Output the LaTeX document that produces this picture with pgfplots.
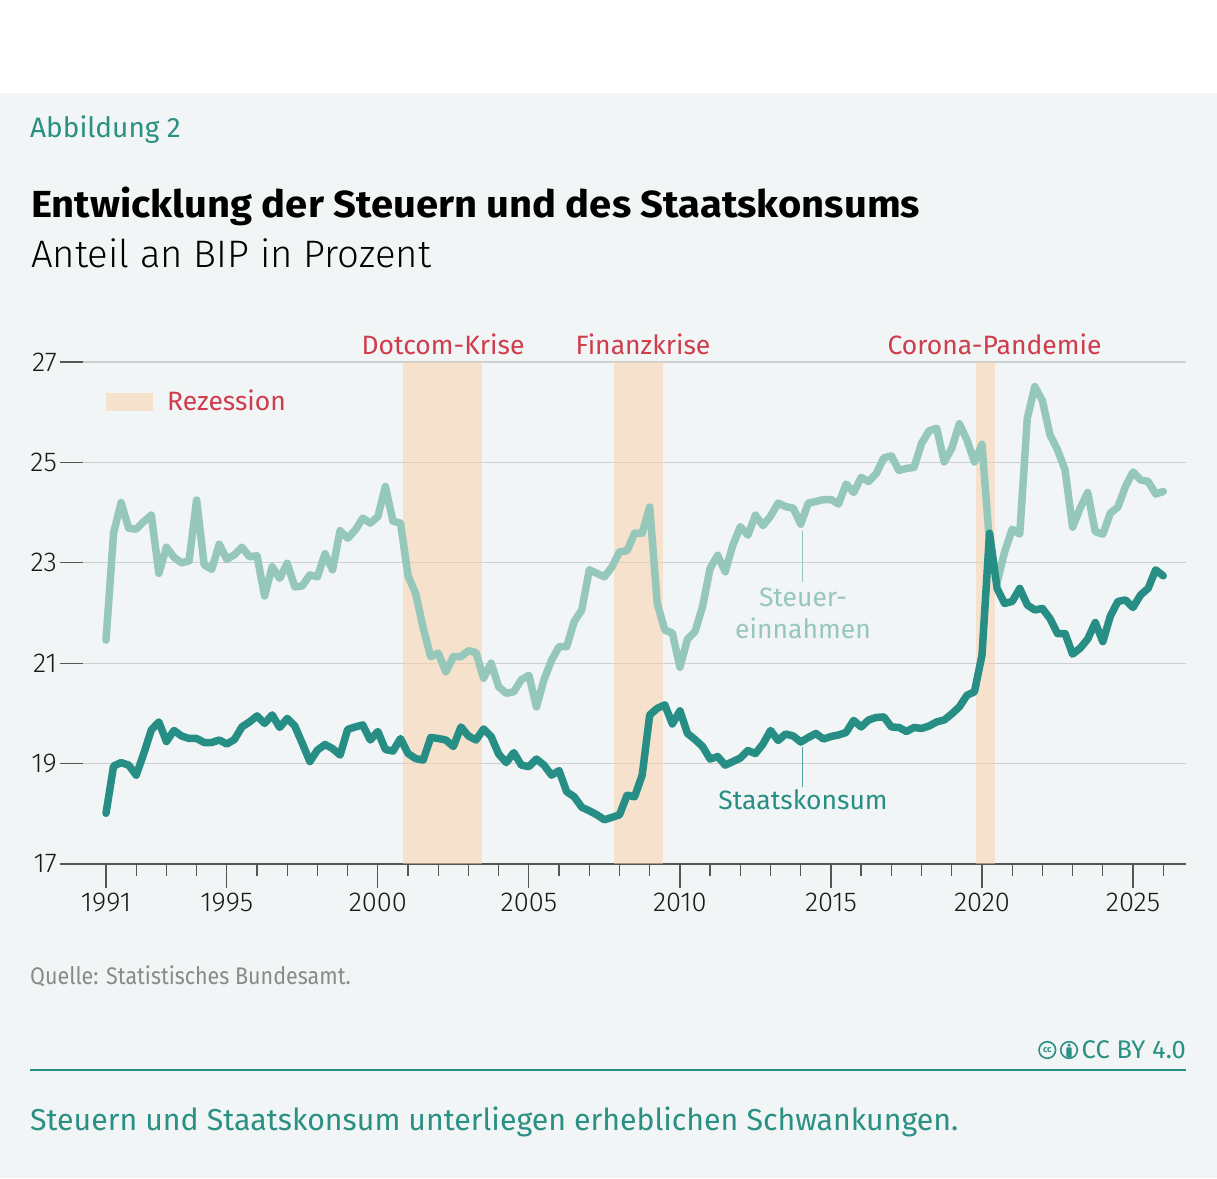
\documentclass[border=0pt]{standalone}
\usepackage{pgfplots}
\pgfplotsset{compat=1.18}
\usepackage{pgfplotstable}
\usepackage{fontspec}
\setmainfont{Fira Sans}
\newfontfamily\condfont[FakeStretch=0.895]{Fira Sans}
\newfontfamily\titlefont[FakeStretch=1.06]{Fira Sans}
\newfontfamily\lightfont{Fira Sans Light}
\definecolor{bgc}{HTML}{F1F5F6}
\definecolor{bandc}{HTML}{F5E2CD}
\definecolor{bandraw}{HTML}{F9CFA4}
\definecolor{lightteal}{HTML}{96C7BB}
\definecolor{darkteal}{HTML}{268E84}
\definecolor{redtxt}{HTML}{CF3D4C}
\definecolor{tealtxt}{HTML}{2A9084}
\definecolor{gridgray}{HTML}{CDD0D1}
\definecolor{axisgray}{HTML}{555555}
\definecolor{srcgray}{HTML}{8A8A8A}

\pgfplotstableread{
x tax cons
1991.00 21.46 18.01
1991.25 23.59 18.95
1991.50 24.20 19.02
1991.75 23.69 18.97
1992.00 23.67 18.77
1992.25 23.82 19.20
1992.50 23.95 19.67
1992.75 22.79 19.83
1993.00 23.31 19.44
1993.25 23.11 19.66
1993.50 23.00 19.55
1993.75 23.04 19.50
1994.00 24.25 19.50
1994.25 22.96 19.42
1994.50 22.87 19.42
1994.75 23.37 19.47
1995.00 23.07 19.39
1995.25 23.16 19.48
1995.50 23.31 19.73
1995.75 23.12 19.83
1996.00 23.14 19.95
1996.25 22.34 19.80
1996.50 22.92 19.97
1996.75 22.69 19.72
1997.00 22.99 19.90
1997.25 22.52 19.75
1997.50 22.54 19.40
1997.75 22.76 19.04
1998.00 22.72 19.27
1998.25 23.18 19.38
1998.50 22.86 19.30
1998.75 23.64 19.17
1999.00 23.49 19.68
1999.25 23.65 19.73
1999.50 23.89 19.77
1999.75 23.79 19.47
2000.00 23.92 19.64
2000.25 24.52 19.28
2000.50 23.83 19.25
2000.75 23.79 19.50
2001.00 22.74 19.20
2001.25 22.39 19.10
2001.50 21.70 19.07
2001.75 21.13 19.52
2002.00 21.20 19.50
2002.25 20.83 19.47
2002.50 21.13 19.34
2002.75 21.13 19.73
2003.00 21.25 19.55
2003.25 21.21 19.47
2003.50 20.70 19.69
2003.75 21.00 19.54
2004.00 20.53 19.19
2004.25 20.40 19.02
2004.50 20.43 19.22
2004.75 20.67 18.97
2005.00 20.76 18.94
2005.25 20.13 19.09
2005.50 20.67 18.97
2005.75 21.06 18.77
2006.00 21.33 18.86
2006.25 21.33 18.44
2006.50 21.83 18.34
2006.75 22.06 18.13
2007.00 22.86 18.06
2007.25 22.79 17.98
2007.50 22.72 17.88
2007.75 22.92 17.93
2008.00 23.22 17.98
2008.25 23.24 18.37
2008.50 23.59 18.34
2008.75 23.59 18.77
2009.00 24.11 19.97
2009.25 22.19 20.10
2009.50 21.66 20.17
2009.75 21.60 19.79
2010.00 20.92 20.05
2010.25 21.48 19.60
2010.50 21.63 19.48
2010.75 22.13 19.34
2011.00 22.89 19.09
2011.25 23.15 19.14
2011.50 22.82 18.97
2011.75 23.35 19.04
2012.00 23.72 19.11
2012.25 23.55 19.26
2012.50 23.95 19.20
2012.75 23.74 19.39
2013.00 23.93 19.66
2013.25 24.19 19.46
2013.50 24.12 19.59
2013.75 24.09 19.55
2014.00 23.77 19.43
2014.25 24.19 19.52
2014.50 24.22 19.60
2014.75 24.26 19.49
2015.00 24.26 19.54
2015.25 24.17 19.57
2015.50 24.57 19.62
2015.75 24.40 19.86
2016.00 24.70 19.73
2016.25 24.62 19.87
2016.50 24.78 19.92
2016.75 25.09 19.93
2017.00 25.13 19.73
2017.25 24.84 19.72
2017.50 24.88 19.64
2017.75 24.90 19.72
2018.00 25.38 19.70
2018.25 25.63 19.75
2018.50 25.68 19.83
2018.75 25.01 19.87
2019.00 25.28 19.99
2019.25 25.77 20.13
2019.50 25.45 20.36
2019.75 25.01 20.43
2020.00 25.36 21.16
2020.25 23.40 23.59
2020.50 22.60 22.49
2020.75 23.22 22.19
2021.00 23.67 22.23
2021.25 23.57 22.49
2021.50 25.88 22.16
2021.75 26.51 22.06
2022.00 26.23 22.09
2022.25 25.55 21.89
2022.50 25.25 21.59
2022.75 24.85 21.59
2023.00 23.71 21.18
2023.25 24.09 21.30
2023.50 24.40 21.48
2023.75 23.62 21.81
2024.00 23.57 21.43
2024.25 23.99 21.94
2024.50 24.11 22.23
2024.75 24.52 22.26
2025.00 24.81 22.11
2025.25 24.65 22.36
2025.50 24.62 22.49
2025.75 24.37 22.86
2026.00 24.42 22.74
}\data

\begin{document}
\begin{tikzpicture}[x=1pt,y=1pt]
\fill[white] (0,0) rectangle (1217,1178);
\fill[bgc] (0,0) rectangle (1217,1085);

% header
\node[anchor=base west, inner sep=0, text=tealtxt, font=\fontsize{28}{32}\selectfont] at (30,1040.5) {Abbildung 2};
\node[anchor=base west, inner sep=0, text=black, font=\fontsize{37.7}{42}\titlefont\bfseries] at (31,960.7) {Entwicklung der Steuern und des Staatskonsums};
\node[anchor=base west, inner sep=0, text=black, font=\fontsize{38.3}{42}\lightfont] at (31,910.7) {Anteil an BIP in Prozent};

\begin{axis}[
  at={(60pt,314pt)}, anchor=south west,
  scale only axis, width=1126pt, height=502pt,
  xmin=1989.477, xmax=2026.755, ymin=17, ymax=27,
  axis x line*=bottom, axis y line*=left,
  y axis line style={draw=none},
  x axis line style={draw=axisgray, line width=1.2pt, -},
  ytick={17,19,21,23,25,27},
  xtick={1991,1995,2000,2005,2010,2015,2020,2025},
  minor xtick={1992,...,2026},
  xtick align=outside, ytick align=inside,
  major tick length=23.5pt, minor tick length=12pt,
  tick style={draw=axisgray, line width=1.2pt},
  ymajorgrids, grid style={draw=gridgray, line width=1.2pt},
  xticklabel style={font=\fontsize{27.3}{30}\lightfont, text=black!90, anchor=base, yshift=-23.5pt},
  yticklabel style={font=\fontsize{27.3}{30}\lightfont, text=black!90, anchor=east, inner sep=0pt, xshift=-3pt},
  xticklabel={\pgfmathprintnumber[int detect,1000 sep={}]{\tick}},
  yticklabel={\pgfmathprintnumber{\tick}},
  /pgf/number format/assume math mode=true,
]
\addplot[fill=bandraw, fill opacity=0.5, draw=none] coordinates {(2000.83,17) (2003.45,17) (2003.45,27) (2000.83,27)} -- cycle;
\addplot[fill=bandraw, fill opacity=0.5, draw=none] coordinates {(2007.82,17) (2009.44,17) (2009.44,27) (2007.82,27)} -- cycle;
\addplot[fill=bandraw, fill opacity=0.5, draw=none] coordinates {(2019.80,17) (2020.43,17) (2020.43,27) (2019.80,27)} -- cycle;
\addplot[lightteal, line width=7.5pt, line join=round, line cap=round, mark=none] table[x=x, y=tax] {\data};
\addplot[darkteal, line width=7.5pt, line join=round, line cap=round, mark=none] table[x=x, y=cons] {\data};
\end{axis}

% leader lines
\draw[lightteal, line width=1.3pt] (802.7,647) -- (802.7,596.3);
\draw[darkteal!80, line width=1.3pt] (802.7,431) -- (802.7,391.3);

% annotations
\begin{scope}[every node/.style={inner sep=0, font=\fontsize{26.5}{30}\selectfont}]
\node[anchor=base, text=redtxt] at (443,823) {Dotcom-Krise};
\node[anchor=base, text=redtxt] at (643,823) {Finanzkrise};
\node[anchor=base, text=redtxt] at (994.5,823) {Corona-Pandemie};
\node[anchor=base west, text=redtxt] at (167,767) {Rezession};
\node[anchor=base, text=lightteal] at (803,571) {Steuer-};
\node[anchor=base, text=lightteal] at (803,539) {einnahmen};
\node[anchor=base, text=darkteal] at (803,368) {Staatskonsum};
\end{scope}
\fill[bandc] (106,767.3) rectangle (153.3,785.3);

% footer
\node[anchor=base west, inner sep=0, text=srcgray, font=\fontsize{24}{28}\condfont] at (30,194) {Quelle: Statistisches Bundesamt.};
\node[anchor=base east, inner sep=0, text=tealtxt, font=\fontsize{25.5}{30}\selectfont] at (1186,120) {CC BY 4.0};
\draw[tealtxt, line width=1.6pt] (1047.3,128) circle (8.3);
\node[inner sep=0, text=tealtxt, font=\fontsize{9}{9}\selectfont\bfseries] at (1047.3,127.6) {cc};
\draw[tealtxt, line width=1.6pt] (1069,128) circle (8.3);
\fill[tealtxt] (1069,132.8) circle (1.7);
\fill[tealtxt, rounded corners=0.6pt] (1066.4,121) rectangle (1071.6,130.6);
\draw[tealtxt, line width=2pt] (30,108) -- (1186,108);
\node[anchor=base west, inner sep=0, text=tealtxt, font=\fontsize{30.3}{34}\selectfont] at (30,48) {Steuern und Staatskonsum unterliegen erheblichen Schwankungen.};
\end{tikzpicture}
\end{document}
